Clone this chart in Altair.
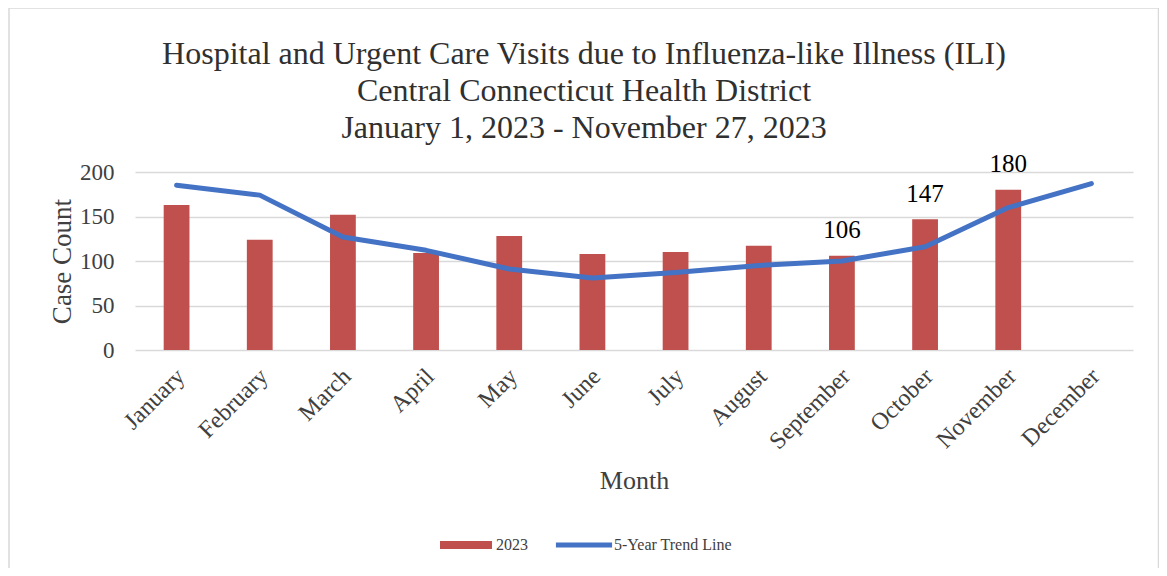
import altair as alt
import pandas as pd

months = ["January", "February", "March", "April", "May", "June", "July",
          "August", "September", "October", "November", "December"]
cases_2023 = [163, 124, 152, 109, 128, 108, 110, 117, 106, 147, 180, None]
trend_5yr = [185, 174, 127, 112, 91, 81, 87, 95, 100, 116, 160, 187]
labelled_months = ["September", "October", "November"]
series_names = ["2023", "5-Year Trend Line"]
y_ticks = [0, 50, 100, 150, 200]
title_lines = ["Hospital and Urgent Care Visits due to Influenza-like Illness (ILI)",
               "Central Connecticut Health District",
               "January 1, 2023 - November 27, 2023"]

RED = "#C0504D"
BLUE = "#4472C4"
FONT = "Liberation Serif"

df = pd.DataFrame({"month": months, "cases": cases_2023, "trend": trend_5yr})
lab_df = df[df["month"].isin(labelled_months)]
leg_df = pd.DataFrame({"series": series_names, "month": [months[0]] * 2, "v": [0, 0]})

x_axis = alt.Axis(title="Month", labelAngle=-45, labelFontSize=24, labelPadding=14,
                  labelOffset=-4, grid=False, titleFontSize=26, titleY=138,
                  titleBaseline="alphabetic")
y_axis = alt.Axis(title="Case Count", values=y_ticks, labelFontSize=23, labelPadding=21,
                  titleFontSize=27, titleX=-65, titleY=89, titleBaseline="alphabetic",
                  titleAlign="center", titleAngle=-90)
x_scale = alt.Scale(paddingInner=0.69, paddingOuter=0.345)
y_scale = alt.Scale(domain=[0, 200], nice=False)


def xenc():
    return alt.X("month:N", sort=months, scale=x_scale, axis=x_axis)


def yenc(field):
    return alt.Y(f"{field}:Q", scale=y_scale, axis=y_axis)


border = alt.Chart(alt.Data(values=[{}])).mark_rect(
    fill="transparent", stroke="#d9d9d9", strokeWidth=1.5
).encode(x=alt.value(-126), x2=alt.value(1023.5), y=alt.value(-164), y2=alt.value(412))

bars = alt.Chart(df).mark_bar(color=RED).encode(x=xenc(), y=yenc("cases"))

line = alt.Chart(df).mark_line(color=BLUE, strokeWidth=5, strokeCap="round",
                               strokeJoin="round").encode(x=xenc(), y=yenc("trend"))

labels = alt.Chart(lab_df).mark_text(font=FONT, fontSize=25, color="#000000",
                                     baseline="alphabetic", dy=-17.5).encode(
    x=xenc(), y=yenc("cases"), text=alt.Text("cases:Q", format="d"))

legend = alt.Legend(orient="none", legendX=305, legendY=347, direction="horizontal",
                    title=None, symbolSize=2704, labelFont=FONT, labelFontSize=16,
                    labelColor="#404040", labelOffset=4, columnPadding=27, padding=0,
                    symbolOpacity=1, symbolStrokeWidth=0)

leg = alt.Chart(leg_df).mark_point(filled=True, opacity=0).encode(
    x=xenc(), y=yenc("v"),
    color=alt.Color("series:N", scale=alt.Scale(domain=series_names, range=[RED, BLUE]),
                    legend=legend),
    shape=alt.Shape("series:N", scale=alt.Scale(
        domain=series_names,
        range=["M-1,-0.154H1V0.154H-1Z", "M-1.08,-0.1H1.08V0.1H-1.08Z"]), legend=legend),
)

chart = alt.layer(border, bars, line, labels, leg).properties(
    width=998, height=178,
    autosize=alt.AutoSizeParams(type="none"),
    padding={"left": 127, "top": 164, "right": 26, "bottom": 218},
    title=alt.TitleParams(text=title_lines, font=FONT, fontSize=32, fontWeight="normal",
                          color="#303030", lineHeight=37, anchor="middle", frame="group",
                          dx=-50, offset=-170, baseline="bottom"),
).configure_axis(
    labelFont=FONT, titleFont=FONT, labelColor="#404040", titleColor="#404040",
    titleFontWeight="normal", domain=False, ticks=False, tickSize=0,
    gridColor="#d9d9d9", gridWidth=1.3,
).configure_view(stroke=None)

chart.save("out.html", embed_options={"renderer": "svg", "actions": False})
